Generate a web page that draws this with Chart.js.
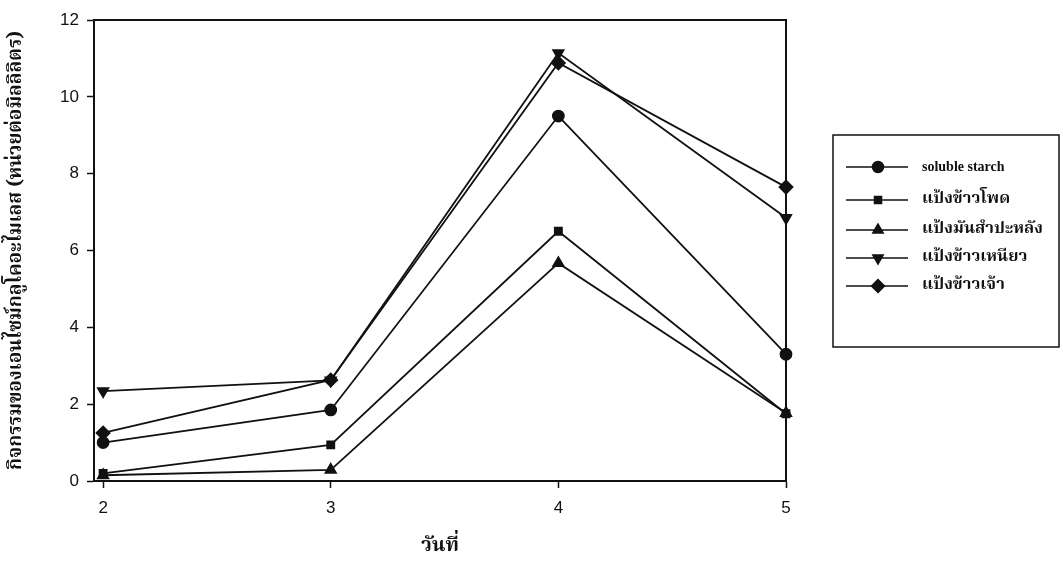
<!DOCTYPE html>
<html>
<head>
<meta charset="utf-8">
<script src="https://cdn.jsdelivr.net/npm/chart.js@4/dist/chart.umd.min.js"></script>
<style>
  html, body { margin: 0; padding: 0; background: #fff; }
  #wrap { width: 1063px; height: 564px; position: relative; }
</style>
</head>
<body>
<div id="wrap"><canvas id="enzymeChart"></canvas></div>
<script>
// days (x values)
const days = [2, 3, 4, 5];
const xTicks = [2, 3, 4, 5];
const yTicks = [0, 2, 4, 6, 8, 10, 12];

// series labels
const seriesNames = ['soluble starch', 'แป้งข้าวโพด', 'แป้งมันสำปะหลัง', 'แป้งข้าวเหนียว', 'แป้งข้าวเจ้า'];

// enzyme activity values (units per ml)
const solubleStarch = [1.0, 1.85, 9.5, 3.3];
const cornStarch = [0.2, 0.94, 6.5, 1.75];
const tapiocaStarch = [0.15, 0.29, 5.67, 1.77];
const glutinousStarch = [2.34, 2.62, 11.14, 6.85];
const riceStarch = [1.25, 2.63, 10.88, 7.65];

const pointStyles = ['circle', 'rect', 'triangle', 'triangle', 'rectRot'];
const pointRotations = [0, 0, 0, 180, 0];
const pointSizes = [5.5, 5, 6, 6, 6.5];

const allValues = [solubleStarch, cornStarch, tapiocaStarch, glutinousStarch, riceStarch];

const thaiFont = '"Noto Serif Thai", "Noto Sans Thai", "Tlwg Typo", serif';

// frame on top and right, plus the legend box
const framePlugin = {
    id: 'frameAndLegend',
    afterDraw(chart) {
        const ctx = chart.ctx;
        const a = chart.chartArea;
        ctx.save();
        ctx.strokeStyle = '#111';
        ctx.lineWidth = 2;
        ctx.beginPath();
        ctx.moveTo(a.left, a.top);
        ctx.lineTo(a.right, a.top);
        ctx.lineTo(a.right, a.bottom);
        ctx.stroke();

        // legend box
        const bx = 833, by = 135, bw = 226, bh = 212;
        ctx.lineWidth = 1.5;
        ctx.strokeRect(bx, by, bw, bh);
        const rowY = [167, 200, 230, 258, 286];
        chart.data.datasets.forEach((ds, i) => {
            const y = rowY[i];
            ctx.strokeStyle = '#111';
            ctx.lineWidth = 1.5;
            ctx.beginPath();
            ctx.moveTo(846, y);
            ctx.lineTo(908, y);
            ctx.stroke();
            ctx.fillStyle = '#111';
            Chart.helpers.drawPoint(ctx, {
                pointStyle: ds.pointStyle,
                rotation: ds.pointRotation,
                radius: ds.pointRadius,
                borderWidth: 1
            }, 878, y);
            ctx.fillStyle = '#111';
            ctx.textBaseline = 'middle';
            ctx.textAlign = 'left';
            ctx.font = i === 0 ? 'bold 14px "Liberation Serif", serif' : 'bold 16.5px ' + thaiFont;
            ctx.fillText(ds.label, 922, y);
        });
        ctx.restore();
    }
};

const datasets = seriesNames.map((name, i) => ({
    label: name,
    data: days.map((d, j) => ({ x: d, y: allValues[i][j] })),
    borderColor: '#111',
    backgroundColor: '#111',
    borderWidth: 1.8,
    pointStyle: pointStyles[i],
    pointRotation: pointRotations[i],
    pointRadius: pointSizes[i],
    pointBackgroundColor: '#111',
    pointBorderColor: '#111',
    clip: false,
    tension: 0
}));

const ctx = document.getElementById('enzymeChart').getContext('2d');
new Chart(ctx, {
    type: 'line',
    data: { datasets: datasets },
    options: {
        responsive: true,
        maintainAspectRatio: false,
        animation: false,
        layout: { padding: { top: 20, right: 277, left: 0, bottom: 0 } },
        plugins: {
            legend: { display: false },
            tooltip: { enabled: false }
        },
        scales: {
            x: {
                type: 'linear',
                min: 1.96,
                max: 5,
                afterBuildTicks: s => { s.ticks = xTicks.map(v => ({ value: v })); },
                afterFit: s => { s.height = 83; },
                grid: { drawOnChartArea: false, tickLength: 7, tickColor: '#111', tickWidth: 1.5 },
                border: { color: '#111', width: 2 },
                ticks: { color: '#111', font: { family: '"Liberation Sans", Arial, sans-serif', size: 17 }, padding: 10 },
                title: {
                    display: true,
                    text: 'วันที่',
                    color: '#111',
                    font: { family: thaiFont, size: 20, weight: 'bold' },
                    padding: { top: 14 }
                }
            },
            y: {
                min: 0,
                max: 12,
                afterBuildTicks: s => { s.ticks = yTicks.map(v => ({ value: v })); },
                afterFit: s => { s.width = 94; },
                grid: { drawOnChartArea: false, tickLength: 7, tickColor: '#111', tickWidth: 1.5 },
                border: { color: '#111', width: 2 },
                ticks: { color: '#111', font: { family: '"Liberation Sans", Arial, sans-serif', size: 17 }, padding: 8 },
                title: {
                    display: true,
                    text: 'กิจกรรมของเอนไซม์กลูโคอะไมเลส (หน่วยต่อมิลลิลิตร)',
                    color: '#111',
                    font: { family: thaiFont, size: 19, weight: 'bold' },
                    padding: { top: 6, bottom: 0 }
                }
            }
        }
    },
    plugins: [framePlugin]
});
</script>
</body>
</html>
